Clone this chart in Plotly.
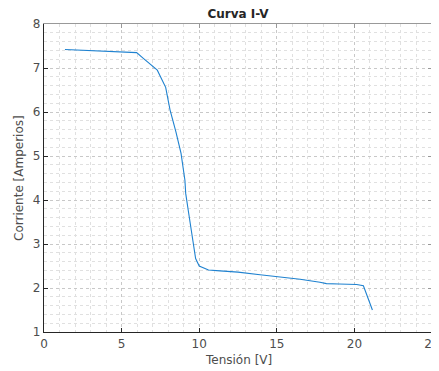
import plotly.graph_objects as go

tension = [1.35, 2.5, 4.0, 5.0, 5.97, 6.4, 7.0, 7.3, 7.84, 8.12, 8.5, 8.83, 9.08, 9.13, 9.3, 9.5, 9.65, 9.77, 10.0, 10.6, 11.34, 12.5, 13.92, 15.1, 16.5, 17.78, 18.2, 19.0, 20.15, 20.58, 20.8, 21.0, 21.16]
corriente = [7.42, 7.40, 7.38, 7.37, 7.35, 7.22, 7.05, 6.95, 6.56, 6.05, 5.55, 5.06, 4.45, 4.15, 3.75, 3.32, 2.95, 2.67, 2.50, 2.41, 2.39, 2.36, 2.30, 2.26, 2.20, 2.13, 2.10, 2.09, 2.08, 2.05, 1.84, 1.65, 1.50]

x_ticks = [0, 5, 10, 15, 20, 25]
y_ticks = [1, 2, 3, 4, 5, 6, 7, 8]

font = "DejaVu Sans"
# page body has an 8px margin, so the figure is drawn offset by 8px
OFF = 8
W, H = 439 - OFF, 371 - OFF
L, R, T, B = 44 - OFF, 7, 24 - OFF, 39

fig = go.Figure()
fig.add_trace(go.Scatter(x=tension, y=corriente, mode="lines",
                         line=dict(color="#1f82d0", width=1.1), showlegend=False))

grid_common = dict(showgrid=True, gridcolor="#c8c8c8", griddash="dot", gridwidth=1,
                   zeroline=False, showline=True, linecolor="#262626", linewidth=1.2,
                   ticks="inside", ticklen=4, tickcolor="#262626", automargin=False,
                   ticklabeloverflow="allow",
                   tickfont=dict(family=font, size=12, color="#4d4d4d"))

PH = H - T - B
PW = W - L - R

fig.update_layout(
    width=W, height=H,
    margin=dict(l=L, r=R, t=T, b=B, autoexpand=False),
    paper_bgcolor="white", plot_bgcolor="white",
    title=dict(text="<b>Curva I-V</b>", xref="paper", x=0.5, xanchor="center",
               yref="container", y=1 - (14 - OFF) / H, yanchor="middle",
               font=dict(family=font, size=12, color="#262626")),
    xaxis=dict(range=[0, 25], tickvals=x_ticks, **grid_common,
               minor=dict(dtick=1, showgrid=True, gridcolor="#e0e0e0", griddash="dot", ticks="")),
    yaxis=dict(range=[1, 8], tickvals=y_ticks, **grid_common,
               minor=dict(dtick=0.2, showgrid=True, gridcolor="#e0e0e0", griddash="dot", ticks="")),
    xaxis2=dict(range=[0, 25], overlaying="x", side="top", tickvals=x_ticks, showticklabels=False,
                showgrid=False, zeroline=False, showline=True, linecolor="#999999", linewidth=1,
                ticks="inside", ticklen=4, tickcolor="#999999", automargin=False),
    yaxis2=dict(range=[1, 8], overlaying="y", side="right", tickvals=y_ticks, showticklabels=False,
                showgrid=False, zeroline=False, showline=True, linecolor="#999999", linewidth=1,
                ticks="inside", ticklen=4, tickcolor="#999999", automargin=False),
    annotations=[
        dict(text="Tensión [V]", xref="paper", yref="paper", x=0.5, y=-(360 - 332) / PH,
             xanchor="center", yanchor="middle", showarrow=False,
             font=dict(family=font, size=12, color="#4d4d4d")),
        dict(text="Corriente [Amperios]", xref="paper", yref="paper", x=-(44 - 19) / PW, y=0.5,
             xanchor="center", yanchor="middle", textangle=-90, showarrow=False,
             font=dict(family=font, size=12, color="#4d4d4d")),
    ],
)
fig.add_trace(go.Scatter(x=[None], y=[None], xaxis="x2", yaxis="y2", showlegend=False, hoverinfo="skip"))

fig.write_html("out.html")
